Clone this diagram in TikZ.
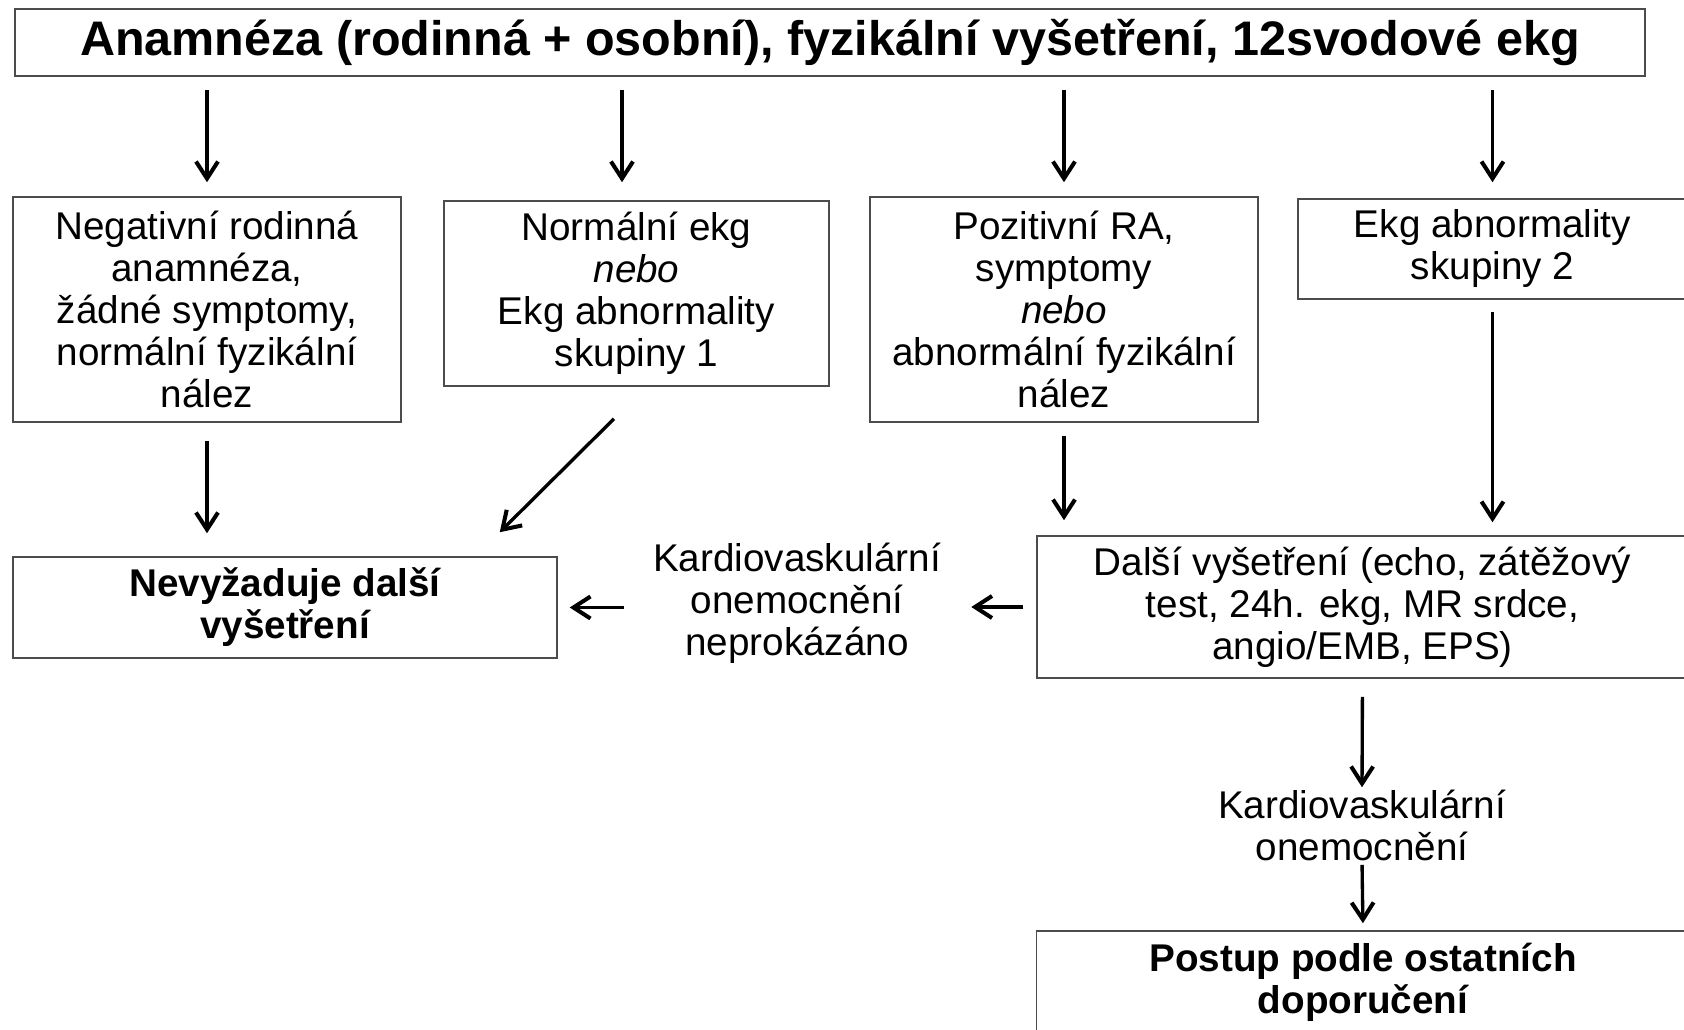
\documentclass[tikz,border=0pt]{standalone}
\usepackage{fontspec}
\setmainfont{Liberation Sans}
\usetikzlibrary{arrows.meta}
\newcommand{\boxfont}{\fontsize{22}{23.9}\selectfont}
\tikzset{
	box/.style = {draw = black!70, line width = 0.9pt, align = center, inner sep = 0pt, font = \boxfont},
	label/.style = {align = center, inner sep = 0pt, font = \boxfont},
	arr/.style = {line width = 1.9pt, shorten < = 0.26cm, shorten > = 0.28cm, -{Straight Barb[length = 0.34cm, width = 0.44cm, line width = 2.3pt]}},
}

\begin{document}
\begin{tikzpicture} [x = 0.02cm, y = -0.02cm]
	\path [use as bounding box, clip] (0,0) rectangle (1684,1030);
	\node [box, minimum width = 32.6cm, minimum height = 1.34cm, font = \fontsize{27.6}{30}\selectfont\bfseries] (anam) at (830,42.5) {Anamnéza (rodinná + osobní), fyzikální vyšetření, 12svodové ekg};
	% second row
	\node [box, minimum width = 7.76cm, minimum height = 4.5cm] (neg) at (207,309.5) {Negativní rodinná\\anamnéza,\\žádné symptomy,\\normální fyzikální\\nález};
	\node [box, minimum width = 7.7cm, minimum height = 3.7cm] (norm) at (636.5,293.5) {Normální ekg\\\textit{nebo}\\Ekg abnormality\\skupiny 1};
	\node [box, minimum width = 7.76cm, minimum height = 4.5cm] (poz) at (1064,309.5) {Pozitivní RA,\\symptomy\\\textit{nebo}\\abnormální fyzikální\\nález};
	\node [box, minimum width = 7.78cm, minimum height = 2cm] (abn) at (1492.5,249) {Ekg abnormality\\skupiny 2};
	% third row
	\node [box, minimum width = 10.88cm, minimum height = 2.02cm, font = \boxfont\bfseries] (nevyz) at (285,607.5) {Nevyžaduje další\\vyšetření};
	\node [label, inner xsep = 0.5cm] (neprok) at (797,603) {Kardiovaskulární\\onemocnění\\neprokázáno};
	\node [box, minimum width = 13.02cm, minimum height = 2.84cm] (dalsi) at (1362.5,607) {Další vyšetření (echo, zátěžový\\test, 24h. ekg, MR srdce,\\angio/EMB, EPS)};
	\node [label] (kardio) at (1362,825) {Kardiovaskulární\\onemocnění};
	\node [box, minimum width = 13.06cm, minimum height = 2.04cm, font = \boxfont\bfseries] (postup) at (1363,982) {Postup podle ostatních\\doporučení};
	% arrows
	\coordinate (nt) at ([xshift = -0.29cm]norm.north);
	\draw [arr] (anam.south -| neg.north) -- (neg.north);
	\draw [arr, shorten > = 0.36cm] (anam.south -| nt) -- (nt);
	\draw [arr] (anam.south -| poz.north) -- (poz.north);
	\draw [arr, shorten > = 0.32cm] (anam.south -| abn.north) -- (abn.north);
	\draw [arr, shorten < = 0.36cm, shorten > = 0.46cm] (neg.south) -- (neg.south |- nevyz.north);
	\draw [arr, shorten < = 0cm, shorten > = 0cm] ([xshift = -0.45cm, yshift = -0.64cm]norm.south) -- ([xshift = -1.16cm, yshift = 0.48cm]nevyz.north east);
	\draw [arr, shorten > = 0.3cm] (poz.south) -- (poz.south |- dalsi.north);
	\draw [arr, shorten < = 0.24cm, shorten > = 0.26cm] (abn.south) -- (abn.south |- dalsi.north);
	\draw [arr, shorten > = 0.1cm] (dalsi.west) -- (dalsi.west -| neprok.east);
	\draw [arr, shorten < = 0.08cm, shorten > = 0.24cm] (neprok.west |- nevyz.east) -- (nevyz.east);
	\draw [arr, shorten < = 0.36cm, shorten > = 0.04cm] (dalsi.south) -- (kardio.north);
	\draw [arr, shorten < = 0.08cm, shorten > = 0.14cm] (kardio.south) -- (postup.north);
\end{tikzpicture}
\end{document}
